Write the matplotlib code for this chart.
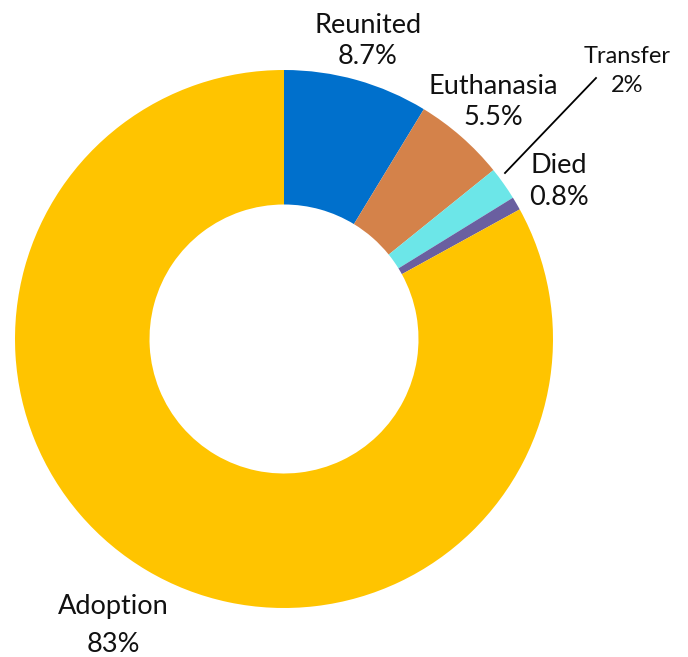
import matplotlib
matplotlib.use("Agg")
import matplotlib.pyplot as plt

categories = ["Reunited", "Euthanasia", "Transfer", "Died", "Adoption"]
values = [8.7, 5.5, 2, 0.8, 83]
value_labels = ["8.7%", "5.5%", "2%", "0.8%", "83%"]
colors = ["#0070CC", "#D4824A", "#6CE6E8", "#6A5FA0", "#FFC400"]

W, H = 688, 657
fig = plt.figure(figsize=(W / 100, H / 100), dpi=100)
ax = fig.add_axes([0, 0, 1, 1])

cx, cy, R = 284, H - 339, 269
ax.pie(values, colors=colors, startangle=90, counterclock=False,
       center=(cx, cy), radius=R, wedgeprops=dict(width=R * 0.5, linewidth=0),
       frame=True)
ax.set_xlim(0, W)
ax.set_ylim(0, H)
ax.set_aspect("auto")
ax.axis("off")

font = "Lato"
# label layout: (x center, baseline of name, baseline of value, fontsize)
layout = {
    "Reunited": (368, 33, 64, 19.5),
    "Euthanasia": (493, 94, 125, 19.5),
    "Transfer": (627, 63, 92, 17),
    "Died": (559, 173, 205, 19.5),
    "Adoption": (113, 614, 652, 19.5),
}
for cat, vl in zip(categories, value_labels):
    x, b1, b2, fs = layout[cat]
    ax.text(x, H - b1, cat, ha="center", va="baseline", fontsize=fs,
            family=font, color="#111111")
    ax.text(x, H - b2, vl, ha="center", va="baseline", fontsize=fs,
            family=font, color="#111111")

ax.plot([505, 596], [H - 173, H - 78], color="black", linewidth=1.3)

fig.savefig("out.png", dpi=100)
